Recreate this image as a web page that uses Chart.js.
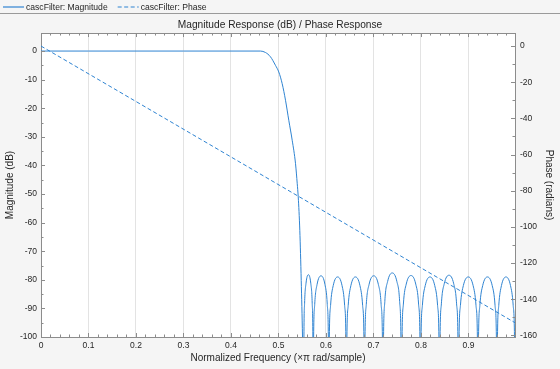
<!DOCTYPE html>
<html>
<head>
<meta charset="utf-8">
<script src="https://cdn.jsdelivr.net/npm/chart.js@4"></script>
<style>
  html, body { margin: 0; padding: 0; background: #f5f5f5; }
</style>
</head>
<body>
<canvas id="c" width="560" height="369"></canvas>
<script>
// magnitude response of cascFilter (normalized freq, dB)
let magFreq = [
  0, 0.1, 0.2, 0.3, 0.4, 0.462,
  0.4726, 0.4831, 0.4937, 0.5006, 0.5078, 0.5148, 0.5217, 0.5289, 0.5359, 0.5395, 0.5416, 0.5449, 0.5479, 0.5506,
  0.553, 0.5536, 0.555, 0.558, 0.563, 0.568, 0.571, 0.5724,
  0.573, 0.574, 0.5763, 0.5813, 0.5895, 0.5978, 0.6027, 0.605,
  0.606, 0.6071, 0.6097, 0.6153, 0.6245, 0.6338, 0.6393, 0.6419,
  0.643, 0.6441, 0.6468, 0.6525, 0.662, 0.6715, 0.6772, 0.6799,
  0.681, 0.6822, 0.6849, 0.6908, 0.7005, 0.7103, 0.7161, 0.7188,
  0.720, 0.7212, 0.7239, 0.7298, 0.7395, 0.7493, 0.7551, 0.7578,
  0.759, 0.7602, 0.763, 0.769, 0.779, 0.789, 0.795, 0.7978,
  0.799, 0.8002, 0.803, 0.809, 0.819, 0.829, 0.835, 0.8378,
  0.839, 0.8402, 0.843, 0.849, 0.859, 0.869, 0.875, 0.8778,
  0.879, 0.8802, 0.8831, 0.8893, 0.8995, 0.9098, 0.9159, 0.9188,
  0.920, 0.9212, 0.924, 0.930, 0.940, 0.950, 0.956, 0.9588,
  0.960, 0.9611, 0.9638, 0.9695, 0.979, 0.9885, 0.9942, 0.9969,
  0.998
];
let magDb = [
  0, 0, 0, 0, 0, 0,
  -0.5, -2, -5, -7.3, -11.4, -17.2, -24.2, -31.2, -39.4, -46.4, -51, -62.7, -80.2, -100,
  -125, -100, -88.2, -81.2, -78.2, -81.2, -88.2, -100,
  -125, -100, -88.6, -81.6, -78.6, -81.6, -88.6, -100,
  -125, -100, -89, -82, -79, -82, -89, -100,
  -125, -100, -89, -82, -79, -82, -89, -100,
  -125, -100, -88.6, -81.6, -78.6, -81.6, -88.6, -100,
  -125, -100, -87.6, -80.6, -77.6, -80.6, -87.6, -100,
  -125, -100, -88.5, -81.5, -78.5, -81.5, -88.5, -100,
  -125, -100, -89, -82, -79, -82, -89, -100,
  -125, -100, -88.4, -81.4, -78.4, -81.4, -88.4, -100,
  -125, -100, -89, -82, -79, -82, -89, -100,
  -125, -100, -89, -82, -79, -82, -89, -100,
  -125, -100, -89, -82, -79, -82, -89, -100,
  -125
];

// phase (radians) - straight line
let phaseFreq = [0, 0.998];
let phaseRad = [0, -153];

let freqTicks = [0, 0.1, 0.2, 0.3, 0.4, 0.5, 0.6, 0.7, 0.8, 0.9];
let magTicks = [-100, -90, -80, -70, -60, -50, -40, -30, -20, -10, 0];
let phaseTicks = [-160, -140, -120, -100, -80, -60, -40, -20, 0];

const fam = "'Liberation Sans', Arial, Helvetica, sans-serif";
const lineBlue = '#2f84d2';
const axisGray = '#8c8c8c';
const textCol = '#262626';

Chart.defaults.font.family = fam;
Chart.defaults.color = textCol;

// backgrounds, box edge, inward ticks and the legend strip
const frame = {
  id: 'frame',
  beforeDraw(chart) {
    const {ctx, chartArea: a, width, height} = chart;
    ctx.save();
    ctx.fillStyle = '#f5f5f5';
    ctx.fillRect(0, 0, width, height);
    ctx.fillStyle = '#ffffff';
    ctx.fillRect(a.left, a.top, a.right - a.left, a.bottom - a.top);
    ctx.restore();
  },
  afterDraw(chart) {
    const {ctx, chartArea: a, scales} = chart;
    const px = v => Math.round(v) + 0.5;
    ctx.save();
    ctx.strokeStyle = axisGray;
    ctx.lineWidth = 1;
    ctx.beginPath();
    ctx.moveTo(a.left, px(a.top));
    ctx.lineTo(a.right, px(a.top));
    for (let i = 0; i < 50; i++) {
      const x = px(scales.x.getPixelForValue(i * 0.02));
      const len = i % 5 === 0 ? 4 : 2.5;
      ctx.moveTo(x, a.bottom); ctx.lineTo(x, a.bottom - len);
      ctx.moveTo(x, a.top); ctx.lineTo(x, a.top + len);
    }
    for (let i = 0; i <= 20; i++) {
      const y = px(scales.y.getPixelForValue(-i * 5));
      const len = i % 2 === 0 ? 4 : 2.5;
      ctx.moveTo(a.left, y); ctx.lineTo(a.left + len, y);
    }
    for (let i = 0; i <= 16; i++) {
      const y = px(scales.y1.getPixelForValue(-i * 10));
      const len = i % 2 === 0 ? 4 : 2.5;
      ctx.moveTo(a.right, y); ctx.lineTo(a.right - len, y);
    }
    ctx.stroke();

    // legend
    ctx.strokeStyle = '#9a9a9a';
    ctx.beginPath();
    ctx.moveTo(0, 13.5); ctx.lineTo(chart.width, 13.5);
    ctx.stroke();
    ctx.font = '8.6px ' + fam;
    ctx.textBaseline = 'middle';
    ctx.fillStyle = textCol;
    let x = 3;
    chart.data.datasets.forEach((ds, i) => {
      const opts = chart.getDatasetMeta(i).dataset.options;
      ctx.setLineDash(opts.borderDash || []);
      ctx.strokeStyle = opts.borderColor || lineBlue;
      ctx.lineWidth = 1.2;
      ctx.beginPath();
      ctx.moveTo(x, 7); ctx.lineTo(x + 21, 7);
      ctx.stroke();
      ctx.setLineDash([]);
      ctx.fillText(ds.label, x + 23, 7.5);
      x += 23 + ctx.measureText(ds.label).width + 10;
    });
    ctx.restore();
  }
};

new Chart(document.getElementById('c'), {
  type: 'line',
  data: {
    datasets: [{
      label: 'cascFilter: Magnitude',
      data: magFreq.map((f, i) => ({x: f, y: magDb[i]})),
      yAxisID: 'y',
      borderColor: lineBlue,
      borderWidth: 1,
      pointRadius: 0,
      cubicInterpolationMode: 'monotone'
    }, {
      label: 'cascFilter: Phase',
      data: phaseFreq.map((f, i) => ({x: f, y: phaseRad[i]})),
      yAxisID: 'y1',
      borderColor: lineBlue,
      borderWidth: 1,
      borderDash: [4, 2.5],
      pointRadius: 0
    }]
  },
  options: {
    responsive: false,
    animation: false,
    devicePixelRatio: 1,
    layout: { padding: 0 },
    plugins: {
      legend: { display: false },
      tooltip: { enabled: false },
      title: {
        display: true,
        text: 'Magnitude Response (dB) / Phase Response',
        color: textCol,
        font: { size: 10.2, weight: 'normal' },
        padding: { top: 18.9, bottom: 1.9 }
      }
    },
    scales: {
      x: {
        type: 'linear',
        min: 0,
        max: 0.998,
        afterBuildTicks: s => { s.ticks = freqTicks.map(v => ({value: v})); },
        afterFit: s => { s.height = 32; },
        grid: { color: '#e3e3e3', drawTicks: false },
        border: { color: axisGray },
        ticks: { font: { size: 8.5 }, color: textCol, padding: 4, maxRotation: 0 },
        title: {
          display: true,
          text: 'Normalized Frequency (×π rad/sample)',
          font: { size: 10 },
          color: textCol,
          padding: { top: 0, bottom: 5 }
        }
      },
      y: {
        position: 'left',
        min: -100,
        max: 6.3,
        afterBuildTicks: s => { s.ticks = magTicks.map(v => ({value: v})); },
        afterFit: s => { s.width = 41; },
        grid: { display: false, drawTicks: false },
        border: { color: axisGray },
        ticks: { font: { size: 8.5 }, color: textCol, padding: 4 },
        title: {
          display: true,
          text: 'Magnitude (dB)',
          font: { size: 10 },
          color: textCol,
          padding: { top: 4, bottom: 0 }
        }
      },
      y1: {
        position: 'right',
        min: -160.9,
        max: 7.2,
        afterBuildTicks: s => { s.ticks = phaseTicks.map(v => ({value: v})); },
        afterFit: s => { s.width = 45; },
        grid: { display: false, drawTicks: false },
        border: { color: axisGray },
        ticks: { font: { size: 8.5 }, color: textCol, padding: 5 },
        title: {
          display: true,
          text: 'Phase (radians)',
          font: { size: 10 },
          color: textCol,
          padding: { top: 5, bottom: 0 }
        }
      }
    }
  },
  plugins: [frame]
});
</script>
</body>
</html>
